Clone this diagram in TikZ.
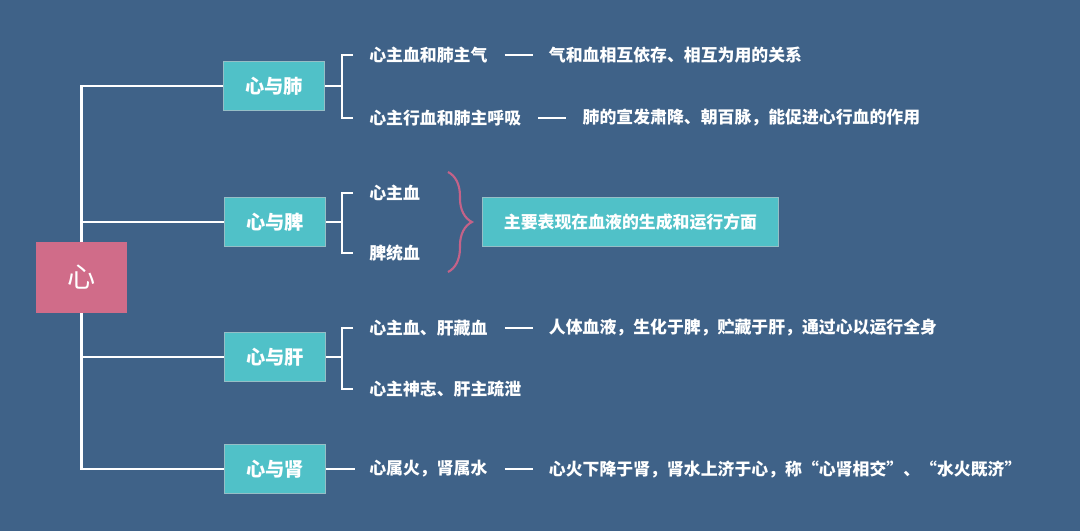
\documentclass[tikz,border=0pt]{standalone}
\usepackage{fontspec}
\setmainfont{Noto Sans CJK SC}
\usetikzlibrary{positioning,calc,decorations.pathreplacing}
\definecolor{bgblue}{RGB}{63,98,136}
\definecolor{boxteal}{RGB}{80,193,200}
\definecolor{boxrim}{RGB}{150,190,198}
\definecolor{rootpink}{RGB}{208,108,137}
\definecolor{bracepink}{RGB}{196,98,136}

\begin{document}
\begin{tikzpicture}[x=0.025cm, y=-0.025cm,
  every node/.style={font=\bfseries\fontsize{12}{14}\selectfont, text=white},
  rootbox/.style={rectangle, fill=rootpink, minimum width=64.7pt, minimum height=50.5pt,
    font=\fontsize{20}{24}\selectfont},
  organ/.style={rectangle, fill=boxteal, draw=boxrim, line width=0.8pt,
    minimum width=71.5pt, minimum height=35pt, font=\bfseries\fontsize{13.7}{16}\selectfont},
  note/.style={rectangle, fill=boxteal, draw=boxrim, line width=0.8pt,
    minimum width=211pt, minimum height=35pt},
  item/.style={anchor=west, inner sep=0pt},
  desc/.style={inner sep=0pt, right=43.4pt of #1},
  trunk/.style={white, line width=2pt},
  twig/.style={white, line width=1.5pt},
  joiner/.style={twig, shorten <=12.1pt, shorten >=11.4pt}]
\fill[bgblue] (0,0) rectangle (1080,531);
\node[rootbox] (xin) at (81.5,277.5) {心};
\node[organ] (fei) at (274,86) {心与肺};
\node[organ] (pi) at (275,222) {心与脾};
\node[organ] (gan) at (275,357) {心与肝};
\node[organ] (shen) at (275,469) {心与肾};
\draw[trunk] (fei.west) -| (xin.north);
\draw[trunk] (pi.west) -| (xin.north);
\draw[trunk] (gan.west) -| (xin.south);
\draw[trunk] (shen.west) -| (xin.south);

\node[item] (f1) at (369,55) {心主血和肺主气};
\node[item] (f2) at (369,118) {心主行血和肺主呼吸};
\node[desc=f1] (f1d) {气和血相互依存、相互为用的关系};
\node[desc=f2] (f2d) {肺的宣发肃降、朝百脉，能促进心行血的作用};
\draw[twig] (fei.east) -- ++(17,0) coordinate (fk);
\draw[twig] ($(f1.west)+(-16,0)$) -| (fk) |- ($(f2.west)+(-16,0)$);
\draw[joiner] (f1.east) -- (f1d.west);
\draw[joiner] (f2.east) -- (f2d.west);

\node[item] (p1) at (369,193) {心主血};
\node[item] (p2) at (369,253) {脾统血};
\draw[twig] (pi.east) -- ++(16,0) coordinate (pk);
\draw[twig] ($(p1.west)+(-16,0)$) -| (pk) |- ($(p2.west)+(-16,0)$);
\draw[bracepink, line width=1.5pt, decorate, decoration={brace, amplitude=17pt}]
  (448,172) -- (448,272);
\node[note] (pinote) at (630.5,222) {主要表现在血液的生成和运行方面};

\node[item] (g1) at (369,328) {心主血、肝藏血};
\node[item] (g2) at (369,389) {心主神志、肝主疏泄};
\node[desc=g1] (g1d) {人体血液，生化于脾，贮藏于肝，通过心以运行全身};
\draw[twig] (gan.east) -- ++(16,0) coordinate (gk);
\draw[twig] ($(g1.west)+(-16,0)$) -| (gk) |- ($(g2.west)+(-16,0)$);
\draw[joiner] (g1.east) -- (g1d.west);

\node[item] (s1) at (369,469) {心属火，肾属水};
\node[desc=s1] (s1d) {心火下降于肾，肾水上济于心，称“心肾相交”、“水火既济”};
\draw[twig] (shen.east) -- ($(s1.west)+(-14,0)$);
\draw[joiner] (s1.east) -- (s1d.west);
\end{tikzpicture}
\end{document}
